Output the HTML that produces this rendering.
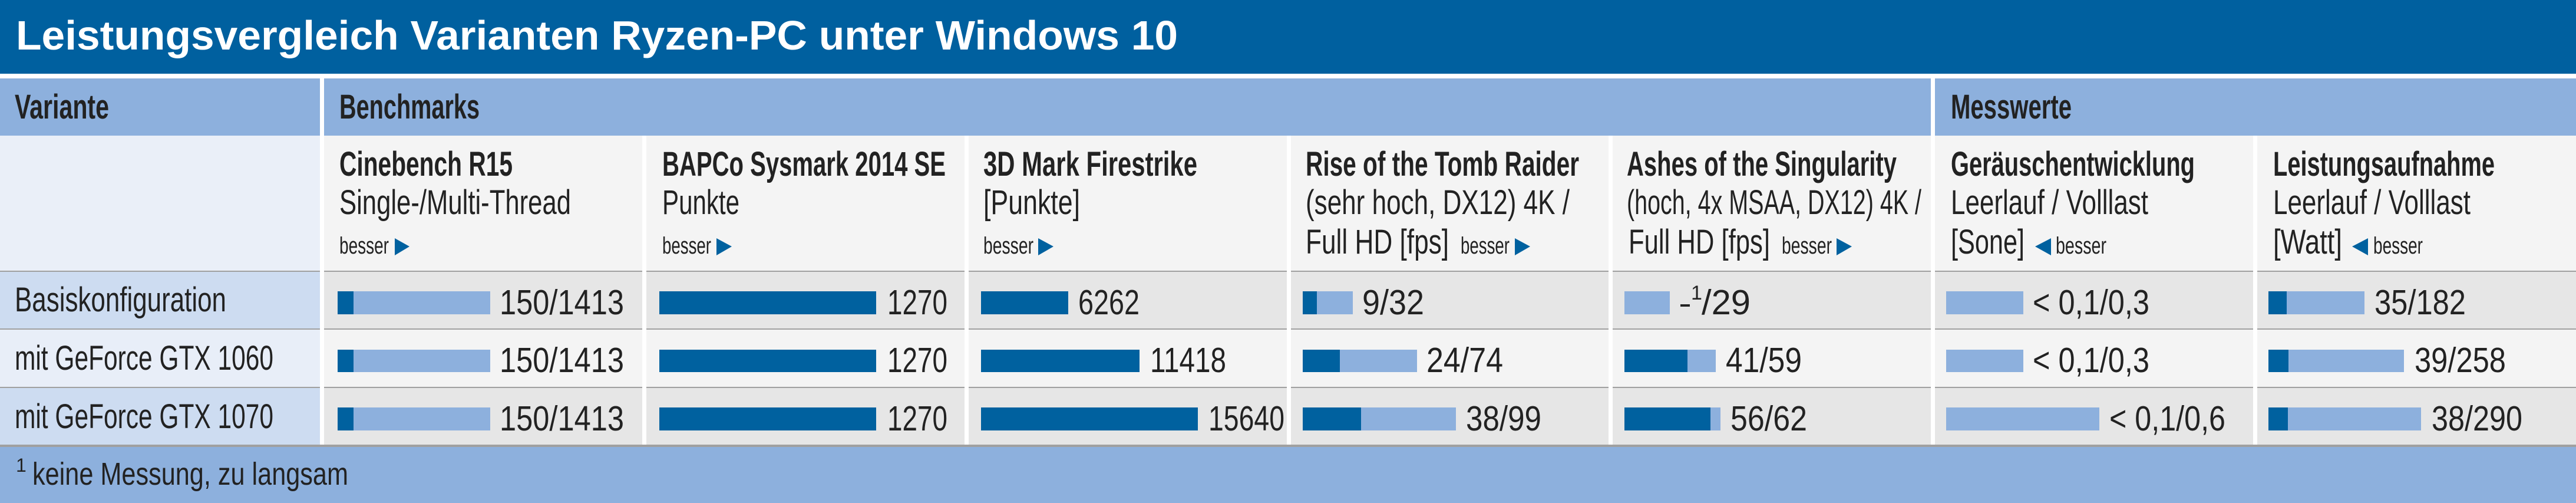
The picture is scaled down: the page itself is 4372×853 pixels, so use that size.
<!DOCTYPE html>
<html><head><meta charset="utf-8"><style>html,body{margin:0;padding:0;background:#fff}svg{display:block}</style></head>
<body>
<svg width="4372" height="853" viewBox="0 0 4372 853" xmlns="http://www.w3.org/2000/svg" font-family="'Liberation Sans Narrow','Liberation Sans',sans-serif" fill="#222">
<rect x="0" y="0" width="4372" height="853" fill="#fff"/>
<!-- title -->
<rect x="0" y="0" width="4372" height="125" fill="#00609f"/>
<text x="27" y="84" font-family="'Liberation Sans',sans-serif" font-weight="bold" font-size="70" fill="#fff" textLength="1972" lengthAdjust="spacingAndGlyphs">Leistungsvergleich Varianten Ryzen-PC unter Windows 10</text>
<!-- header row -->
<rect x="0" y="133" width="543" height="97" fill="#8db0dd"/>
<rect x="550" y="133" width="2727" height="97" fill="#8db0dd"/>
<rect x="3284" y="133" width="1088" height="97" fill="#8db0dd"/>
<g font-weight="bold" font-size="58">
<text x="25" y="201" textLength="160" lengthAdjust="spacingAndGlyphs">Variante</text>
<text x="576" y="201" textLength="238" lengthAdjust="spacingAndGlyphs">Benchmarks</text>
<text x="3311" y="201" textLength="205" lengthAdjust="spacingAndGlyphs">Messwerte</text>
</g>
<!-- subheader backgrounds -->
<rect x="0" y="230" width="543" height="230" fill="#eaeff8"/>
<g fill="#f4f4f4">
<rect x="550" y="230" width="540" height="230"/>
<rect x="1097" y="230" width="540" height="230"/>
<rect x="1644" y="230" width="540" height="230"/>
<rect x="2191" y="230" width="539" height="230"/>
<rect x="2737" y="230" width="540" height="230"/>
<rect x="3284" y="230" width="540" height="230"/>
<rect x="3831" y="230" width="541" height="230"/>
</g>
<!-- data rows backgrounds -->
<g>
<rect x="0" y="460" width="543" height="98" fill="#cddcf1"/>
<rect x="0" y="559" width="543" height="98" fill="#e8eef8"/>
<rect x="0" y="658" width="543" height="97" fill="#cddcf1"/>
</g>
<g id="cols">
<g fill="#e6e6e6">
<rect x="550" y="460" width="540" height="98"/><rect x="1097" y="460" width="540" height="98"/><rect x="1644" y="460" width="540" height="98"/><rect x="2191" y="460" width="539" height="98"/><rect x="2737" y="460" width="540" height="98"/><rect x="3284" y="460" width="540" height="98"/><rect x="3831" y="460" width="541" height="98"/>
<rect x="550" y="658" width="540" height="97"/><rect x="1097" y="658" width="540" height="97"/><rect x="1644" y="658" width="540" height="97"/><rect x="2191" y="658" width="539" height="97"/><rect x="2737" y="658" width="540" height="97"/><rect x="3284" y="658" width="540" height="97"/><rect x="3831" y="658" width="541" height="97"/>
</g>
<g fill="#f4f4f4">
<rect x="550" y="559" width="540" height="98"/><rect x="1097" y="559" width="540" height="98"/><rect x="1644" y="559" width="540" height="98"/><rect x="2191" y="559" width="539" height="98"/><rect x="2737" y="559" width="540" height="98"/><rect x="3284" y="559" width="540" height="98"/><rect x="3831" y="559" width="541" height="98"/>
</g>
</g>
<!-- separators -->
<g fill="#a0a0a0">
<rect x="0" y="459" width="4372" height="2"/>
<rect x="0" y="557" width="4372" height="2"/>
<rect x="0" y="656" width="4372" height="2"/>
<rect x="0" y="754" width="4372" height="4"/>
</g>
<g fill="#fff">
<rect x="543" y="459" width="7" height="295"/><rect x="1090" y="459" width="7" height="295"/><rect x="1637" y="459" width="7" height="295"/><rect x="2184" y="459" width="7" height="295"/><rect x="2730" y="459" width="7" height="295"/><rect x="3277" y="459" width="7" height="295"/><rect x="3824" y="459" width="7" height="295"/>
</g>
<!-- footer -->
<rect x="0" y="758" width="4372" height="95" fill="#8db0dd"/>
<text x="27" y="800" font-size="32">1</text>
<text x="55" y="822" font-size="54" textLength="536" lengthAdjust="spacingAndGlyphs">keine Messung, zu langsam</text>

<!-- subheader texts -->
<g font-weight="bold" font-size="58">
<text x="576" y="298" textLength="294" lengthAdjust="spacingAndGlyphs">Cinebench R15</text>
<text x="1124" y="298" textLength="481" lengthAdjust="spacingAndGlyphs">BAPCo Sysmark 2014 SE</text>
<text x="1669" y="298" textLength="363" lengthAdjust="spacingAndGlyphs">3D Mark Firestrike</text>
<text x="2216" y="298" textLength="464" lengthAdjust="spacingAndGlyphs">Rise of the Tomb Raider</text>
<text x="2761" y="298" textLength="458" lengthAdjust="spacingAndGlyphs">Ashes of the Singularity</text>
<text x="3311" y="298" textLength="414" lengthAdjust="spacingAndGlyphs">Geräuschentwicklung</text>
<text x="3858" y="298" textLength="376" lengthAdjust="spacingAndGlyphs">Leistungsaufnahme</text>
</g>
<g font-size="58">
<text x="576" y="363" textLength="393" lengthAdjust="spacingAndGlyphs">Single-/Multi-Thread</text>
<text x="1124" y="363" textLength="131" lengthAdjust="spacingAndGlyphs">Punkte</text>
<text x="1669" y="363" textLength="164" lengthAdjust="spacingAndGlyphs">[Punkte]</text>
<text x="2216" y="363" textLength="448" lengthAdjust="spacingAndGlyphs">(sehr hoch, DX12) 4K /</text>
<text x="2761" y="363" textLength="500" lengthAdjust="spacingAndGlyphs">(hoch, 4x MSAA, DX12) 4K /</text>
<text x="3311" y="363" textLength="335" lengthAdjust="spacingAndGlyphs">Leerlauf / Volllast</text>
<text x="3858" y="363" textLength="335" lengthAdjust="spacingAndGlyphs">Leerlauf / Volllast</text>
<text x="2216" y="430" textLength="243" lengthAdjust="spacingAndGlyphs">Full HD [fps]</text>
<text x="2764" y="430" textLength="240" lengthAdjust="spacingAndGlyphs">Full HD [fps]</text>
<text x="3311" y="430" textLength="125" lengthAdjust="spacingAndGlyphs">[Sone]</text>
<text x="3858" y="430" textLength="117" lengthAdjust="spacingAndGlyphs">[Watt]</text>
</g>
<g font-size="40">
<text x="576" y="430" textLength="84" lengthAdjust="spacingAndGlyphs">besser</text>
<text x="1124" y="430" textLength="83" lengthAdjust="spacingAndGlyphs">besser</text>
<text x="1669" y="430" textLength="85" lengthAdjust="spacingAndGlyphs">besser</text>
<text x="2479" y="430" textLength="83" lengthAdjust="spacingAndGlyphs">besser</text>
<text x="3024" y="430" textLength="85" lengthAdjust="spacingAndGlyphs">besser</text>
<text x="3489" y="430" textLength="86" lengthAdjust="spacingAndGlyphs">besser</text>
<text x="4028" y="430" textLength="84" lengthAdjust="spacingAndGlyphs">besser</text>
</g>
<g fill="#00619f">
<polygon points="670,404 695,418 670,433"/>
<polygon points="1216,404 1242,418 1216,433"/>
<polygon points="1762,404 1788,418 1762,433"/>
<polygon points="2571,404 2597,418 2571,433"/>
<polygon points="3117,404 3143,418 3117,433"/>
<polygon points="3481,404 3454,418 3481,433"/>
<polygon points="4019,404 3992,418 4019,433"/>
</g>

<!-- row labels -->
<g font-size="58">
<text x="25" y="528" textLength="359" lengthAdjust="spacingAndGlyphs">Basiskonfiguration</text>
<text x="25" y="627" textLength="439" lengthAdjust="spacingAndGlyphs">mit GeForce GTX 1060</text>
<text x="25" y="726" textLength="439" lengthAdjust="spacingAndGlyphs">mit GeForce GTX 1070</text>
</g>

<!-- bars: light -->
<g fill="#8db0dd">
<rect x="573" y="494" width="259" height="39"/><rect x="573" y="593" width="259" height="38"/><rect x="573" y="691" width="259" height="39"/>
<rect x="2211" y="494" width="85" height="39"/><rect x="2211" y="593" width="194" height="38"/><rect x="2211" y="691" width="260" height="39"/>
<rect x="2757" y="494" width="77" height="39"/><rect x="2757" y="593" width="155" height="38"/><rect x="2757" y="691" width="163" height="39"/>
<rect x="3303" y="494" width="131" height="39"/><rect x="3303" y="593" width="131" height="38"/><rect x="3303" y="691" width="260" height="39"/>
<rect x="3850" y="494" width="163" height="39"/><rect x="3850" y="593" width="230" height="38"/><rect x="3850" y="691" width="259" height="39"/>
</g>
<!-- bars: dark -->
<g fill="#00619f">
<rect x="573" y="494" width="27" height="39"/><rect x="573" y="593" width="27" height="38"/><rect x="573" y="691" width="27" height="39"/>
<rect x="1119" y="494" width="368" height="39"/><rect x="1119" y="593" width="368" height="38"/><rect x="1119" y="691" width="368" height="39"/>
<rect x="1665" y="494" width="148" height="39"/><rect x="1665" y="593" width="269" height="38"/><rect x="1665" y="691" width="368" height="39"/>
<rect x="2211" y="494" width="24" height="39"/><rect x="2211" y="593" width="63" height="38"/><rect x="2211" y="691" width="99" height="39"/>
<rect x="2757" y="593" width="107" height="38"/><rect x="2757" y="691" width="146" height="39"/>
<rect x="3850" y="494" width="31" height="39"/><rect x="3850" y="593" width="34" height="38"/><rect x="3850" y="691" width="33" height="39"/>
</g>

<!-- values -->
<g font-size="59">
<text x="848" y="533" textLength="211" lengthAdjust="spacingAndGlyphs">150/1413</text>
<text x="848" y="631" textLength="211" lengthAdjust="spacingAndGlyphs">150/1413</text>
<text x="848" y="730" textLength="211" lengthAdjust="spacingAndGlyphs">150/1413</text>
<text x="1506" y="533" textLength="102" lengthAdjust="spacingAndGlyphs">1270</text>
<text x="1506" y="631" textLength="102" lengthAdjust="spacingAndGlyphs">1270</text>
<text x="1506" y="730" textLength="102" lengthAdjust="spacingAndGlyphs">1270</text>
<text x="1830" y="533" textLength="104" lengthAdjust="spacingAndGlyphs">6262</text>
<text x="1952" y="631" textLength="129" lengthAdjust="spacingAndGlyphs">11418</text>
<text x="2051" y="730" textLength="129" lengthAdjust="spacingAndGlyphs">15640</text>
<text x="2312" y="533" textLength="105" lengthAdjust="spacingAndGlyphs">9/32</text>
<text x="2421" y="631" textLength="130" lengthAdjust="spacingAndGlyphs">24/74</text>
<text x="2488" y="730" textLength="128" lengthAdjust="spacingAndGlyphs">38/99</text>
<text x="2852" y="533" textLength="16" lengthAdjust="spacingAndGlyphs">–</text>
<text x="2870" y="508" font-size="34">1</text>
<text x="2888" y="533" textLength="83" lengthAdjust="spacingAndGlyphs">/29</text>
<text x="2929" y="631" textLength="129" lengthAdjust="spacingAndGlyphs">41/59</text>
<text x="2937" y="730" textLength="130" lengthAdjust="spacingAndGlyphs">56/62</text>
<text x="3450" y="533" textLength="198" lengthAdjust="spacingAndGlyphs">&lt; 0,1/0,3</text>
<text x="3450" y="631" textLength="198" lengthAdjust="spacingAndGlyphs">&lt; 0,1/0,3</text>
<text x="3580" y="730" textLength="197" lengthAdjust="spacingAndGlyphs">&lt; 0,1/0,6</text>
<text x="4030" y="533" textLength="155" lengthAdjust="spacingAndGlyphs">35/182</text>
<text x="4098" y="631" textLength="155" lengthAdjust="spacingAndGlyphs">39/258</text>
<text x="4127" y="730" textLength="154" lengthAdjust="spacingAndGlyphs">38/290</text>
</g>
</svg>
</body></html>
